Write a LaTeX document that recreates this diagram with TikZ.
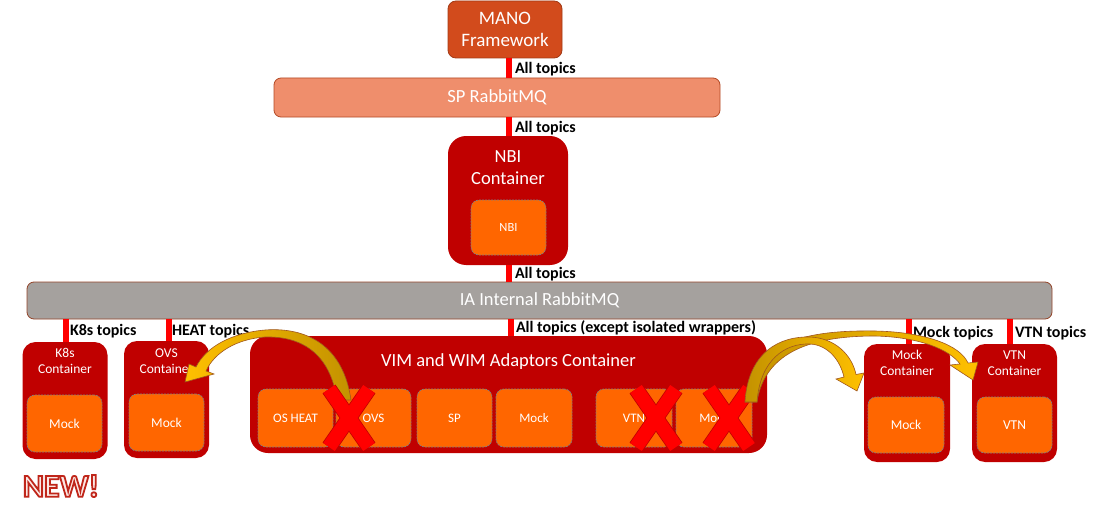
\documentclass[tikz,border=0pt]{standalone}
\usepackage{fontspec}
\setmainfont{Carlito}
\definecolor{manoC}{HTML}{D24B1C}
\definecolor{manoB}{HTML}{A23A16}
\definecolor{spC}{HTML}{EF8E6C}
\definecolor{spB}{HTML}{B44A26}
\definecolor{contC}{HTML}{C00000}
\definecolor{innC}{HTML}{FF6600}
\definecolor{innB}{HTML}{7F7F7F}
\definecolor{iaC}{HTML}{A5A19E}
\definecolor{iaB}{HTML}{94452A}
\definecolor{conC}{HTML}{FF0000}
\definecolor{goldL}{HTML}{FFC000}
\definecolor{goldD}{HTML}{C39200}
\definecolor{goldB}{HTML}{A0561E}
\definecolor{xB}{HTML}{C00000}
\definecolor{newF}{HTML}{FCE8E4}
\newcommand{\outlinetext}[1]{\special{pdf:literal direct 2 Tr 1.8 w 0.753 0.149 0.102 RG}#1\special{pdf:literal direct 0 Tr}}
\tikzset{
 every node/.style={inner sep=0pt, outer sep=0pt},
 bigtxt/.style={font=\fontsize{18.5}{22}\selectfont, text=white, align=center},
 midtxt/.style={font=\fontsize{13.5}{15.5}\selectfont, text=white, align=center},
 smalltxt/.style={font=\fontsize{13}{15}\selectfont, text=white},
 manobox/.style={fill=manoC, draw=manoB, line width=0.8pt, rounded corners=8pt},
 bar/.style={line width=0.8pt, rounded corners=7pt},
 bigcont/.style={fill=contC, rounded corners=18pt},
 smallcont/.style={fill=contC, rounded corners=13pt},
 inbox/.style={fill=innC, draw=innB, line width=0.7pt, dash pattern=on 2pt off 1pt, rounded corners=8pt},
 conn/.style={draw=conC, line width=6pt},
 toplbl/.style={font=\fontsize{16}{18}\selectfont\bfseries, anchor=west, text=black},
 bendarrow/.style={draw=goldB, line width=0.6pt},
 xarm/.style={line width=14pt, draw=conC},
 xedge/.style={line width=15.6pt, draw=xB},
 newtxt/.style={font=\fontsize{32}{36}\selectfont\bfseries},
}
\begin{document}
\begin{tikzpicture}[x=1pt,y=-1pt]
\useasboundingbox[fill=white] (0,0) rectangle (1096,511);

% top part
\node[manobox, minimum width=114pt, minimum height=57pt, bigtxt, font=\fontsize{19}{22}\selectfont] (mano) at (505,29.5) {MANO\\Framework};
\node[bar, fill=spC, draw=spB, minimum width=446pt, minimum height=39pt, bigtxt] (sp) at (497,97.5) {SP RabbitMQ};
\node[bigcont, minimum width=120pt, minimum height=129pt] (nbic) at (508,200.5) {};
\node[bigtxt] (nbit) at (508,168) {NBI\\Container};
\node[inbox, minimum width=75pt, minimum height=55pt, smalltxt, font=\fontsize{12.5}{14}\selectfont] (nbi) at (508.5,227.5) {NBI};
\node[bar, fill=iaC, draw=iaB, minimum width=1025pt, minimum height=37pt, bigtxt] (ia) at (539.5,300.5) {IA Internal RabbitMQ};

\coordinate (cx) at (508.5,0);
\draw[conn] (mano.south -| cx) -- (sp.north -| cx);
\node[toplbl] (l1) at (515,69) {All topics};
\draw[conn] (sp.south -| cx) -- (nbic.north -| cx);
\node[toplbl] (l2) at (515,128) {All topics};
\draw[conn] (nbic.south -| cx) -- (ia.north -| cx);
\node[toplbl] (l3) at (515,274) {All topics};

% lower containers
\node[smallcont, minimum width=85pt, minimum height=117pt] (k8c) at (65,400.5) {};
\node[midtxt] (k8t) at (65,361) {K8s\\Container};
\node[inbox, minimum width=75pt, minimum height=57pt, smalltxt, font=\fontsize{13.5}{15}\selectfont] (k8m) at (64.5,423.5) {Mock};

\node[smallcont, minimum width=85pt, minimum height=117pt] (ovc) at (166.5,399.5) {};
\node[midtxt] (ovt) at (166.5,361) {OVS\\Container};
\node[inbox, minimum width=75pt, minimum height=57pt, smalltxt, font=\fontsize{13.5}{15}\selectfont] (ovm) at (166.5,422.5) {Mock};

\node[smallcont, minimum width=86pt, minimum height=118pt] (mkc) at (907,403) {};
\node[midtxt] (mkt) at (907,363) {Mock\\Container};
\node[inbox, minimum width=76pt, minimum height=56pt, smalltxt, font=\fontsize{13.5}{15}\selectfont] (mkm) at (906,425) {Mock};

\node[smallcont, minimum width=85pt, minimum height=118pt] (vtc) at (1014.5,403) {};
\node[midtxt] (vtt) at (1014.5,363) {VTN\\Container};
\node[inbox, minimum width=75pt, minimum height=56pt, smalltxt, font=\fontsize{13.5}{15}\selectfont] (vtm) at (1014.5,425) {VTN};

\node[bigcont, minimum width=517pt, minimum height=117pt] (vim) at (508.5,394.5) {};
\node[bigtxt] (vimt) at (508.5,362) {VIM and WIM Adaptors Container};
\node[inbox, minimum width=75pt, minimum height=58pt, smalltxt] (w1) at (295.5,418) {OS HEAT};
\node[inbox, minimum width=75pt, minimum height=58pt, smalltxt] (w2) at (373.5,418) {OVS};
\node[inbox, minimum width=75pt, minimum height=58pt, smalltxt] (w3) at (454.5,418) {SP};
\node[inbox, minimum width=76pt, minimum height=58pt, smalltxt] (w4) at (534,418) {Mock};
\node[inbox, minimum width=76pt, minimum height=58pt, smalltxt] (w5) at (634,418) {VTN};
\node[inbox, minimum width=76pt, minimum height=58pt, smalltxt] (w6) at (714,418) {Mock};

% lower connectors
\coordinate (c1) at (66,0);
\coordinate (c2) at (169,0);
\coordinate (c3) at (510.5,0);
\coordinate (c4) at (908.5,0);
\coordinate (c5) at (1010,0);
\draw[conn] (ia.south -| c1) -- (k8c.north -| c1);
\draw[conn] (ia.south -| c2) -- (ovc.north -| c2);
\draw[conn] (ia.south -| c3) -- (vim.north -| c3);
\draw[conn] (ia.south -| c4) -- (mkc.north -| c4);
\draw[conn] (ia.south -| c5) -- (vtc.north -| c5);
\node[toplbl] (l4) at (70,331) {K8s topics};
\node[toplbl] (l5) at (172,331) {HEAT topics};
\node[toplbl] (l6) at (516,328) {All topics (except isolated wrappers)};
\node[toplbl] (l7) at (913,333) {Mock topics};
\node[toplbl] (l8) at (1015,333) {VTN topics};

% left bent arrow
\draw[bendarrow, left color=goldL, right color=goldD]
 (351,400) .. controls (343,344) and (305,327) .. (265,330) .. controls (231,333) and (206,347) .. (196,367)
 -- (189,364) -- (185,382) -- (214,374) -- (206,371)
 .. controls (214,353) and (236,339) .. (265,337) .. controls (300,336) and (330,352) .. (337,400) -- cycle;

% red crosses
\foreach \cxx/\cyy in {349/418, 656/418, 729/418} {
  \draw[xedge] (\cxx-20,\cyy-29) -- (\cxx+20,\cyy+29) (\cxx+20,\cyy-29) -- (\cxx-20,\cyy+29);
  \draw[xarm] (\cxx-20,\cyy-29) -- (\cxx+20,\cyy+29) (\cxx+20,\cyy-29) -- (\cxx-20,\cyy+29);
}

% right bent arrows
\draw[bendarrow, left color=goldD, right color=goldL]
 (745,402) .. controls (750,340) and (810,330) .. (875,331) .. controls (925,332) and (960,345) .. (968,363)
 -- (978,362) -- (973,380) -- (950,365) -- (960,364)
 .. controls (950,350) and (920,337) .. (875,336) .. controls (815,336) and (765,350) .. (757,402) -- cycle;
\draw[bendarrow, left color=goldD, right color=goldL]
 (745,402) .. controls (748,352) and (780,336) .. (810,337) .. controls (835,338) and (852,355) .. (856,374.5)
 -- (864,373) -- (857,391) -- (836,379) -- (844,377)
 .. controls (840,360) and (828,345) .. (810,344) .. controls (785,343) and (760,360) .. (757,402) -- cycle;

% NEW!
\node[newtxt, text=newF] (new) at (61,486) {\outlinetext{NEW!}};
\end{tikzpicture}
\end{document}
